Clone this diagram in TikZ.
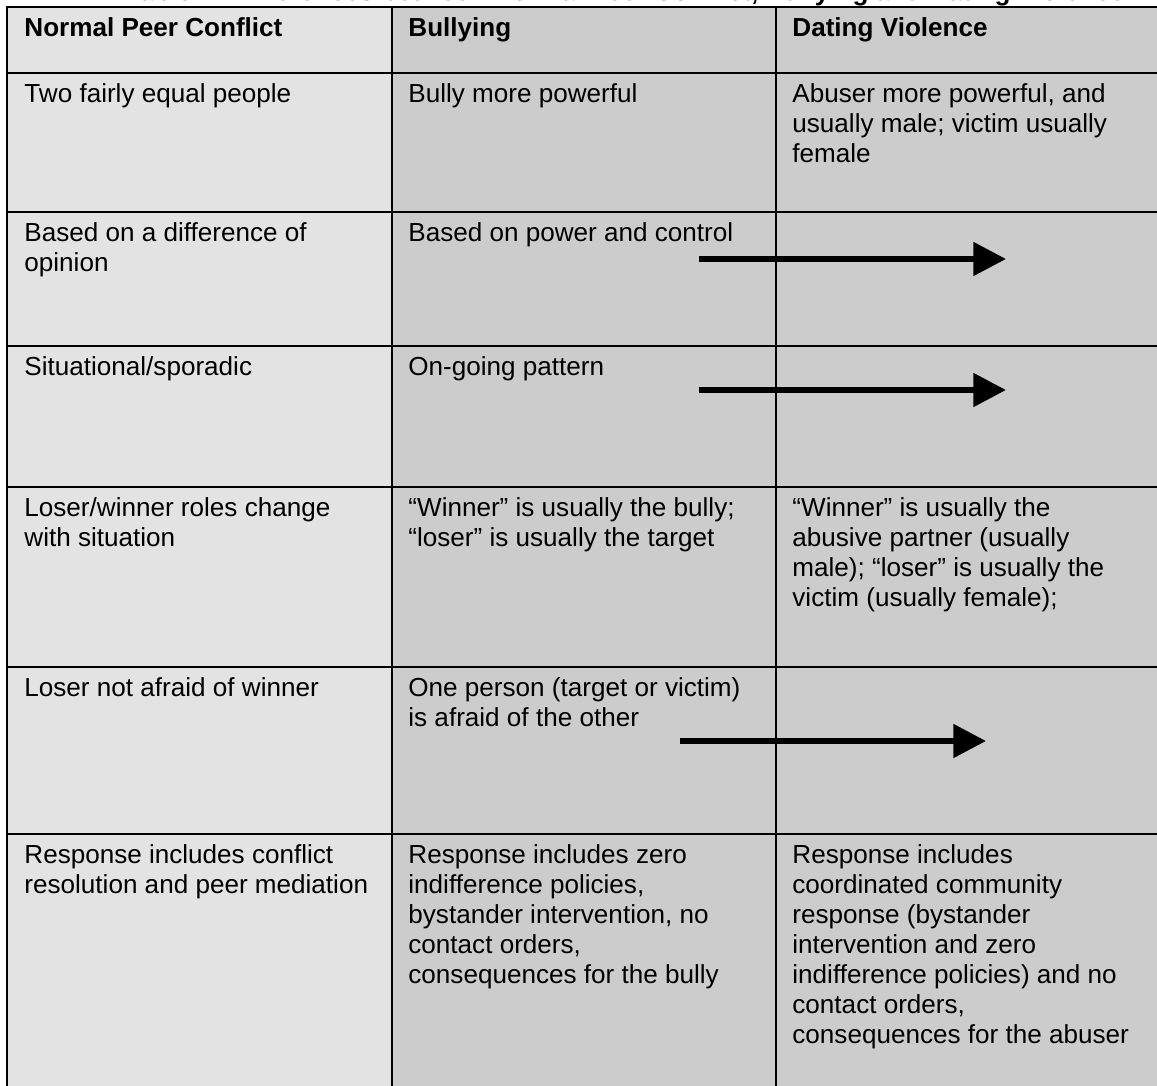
\documentclass[tikz,border=0pt]{standalone}
\usepackage{fontspec}
\setmainfont{Liberation Sans}
\usetikzlibrary{arrows.meta}
\definecolor{peercol}{gray}{0.89}
\definecolor{bullycol}{gray}{0.80}
\begin{document}
\begin{tikzpicture}[x=0.46pt,y=-0.46pt,
  cell/.style={anchor=north west, inner sep=0pt, align=left, font=\fontsize{12}{13.8}\selectfont},
  head/.style={cell, font=\fontsize{12}{13.8}\selectfont\bfseries},
  rule/.style={line width=0.75pt},
  frame/.style={line width=1pt},
  same/.style={-{Triangle[length=15pt,width=15pt]}, line width=2.8pt}]
\useasboundingbox (0,0) rectangle (1157,1086);
\fill[peercol] (7,7) rectangle (392,1086);
\fill[bullycol] (392,7) rectangle (1157,1086);
\node[anchor=base east, inner sep=0pt, font=\fontsize{12}{13.8}\selectfont\bfseries] (title) at (1125,0.5) {Table 1: Differences between Normal Peer Conflict, Bullying and Dating Violence};
% grid
\draw[rule] (392,7) -- (392,1086);
\draw[rule] (776,7) -- (776,1086);
\draw[rule] (7,73) -- (1157,73);
\draw[rule] (7,212) -- (1157,212);
\draw[rule] (7,346) -- (1157,346);
\draw[rule] (7,487) -- (1157,487);
\draw[rule] (7,667) -- (1157,667);
\draw[rule] (7,834) -- (1157,834);
\draw[frame] (7,1086) -- (7,7) -- (1157,7);
% header
\node[head] (h1) at (24,17) {Normal Peer Conflict};
\node[head] (h2) at (408,17) {Bullying};
\node[head] (h3) at (792,17) {Dating Violence};
% rows
\node[cell] (r1a) at (24,83) {Two fairly equal people};
\node[cell] (r1b) at (408,83) {Bully more powerful};
\node[cell] (r1c) at (792,83) {Abuser more powerful, and\\usually male; victim usually\\female};
\node[cell] (r2a) at (24,222) {Based on a difference of\\opinion};
\node[cell] (r2b) at (408,222) {Based on power and control};
\node[cell] (r3a) at (24,356) {Situational/sporadic};
\node[cell] (r3b) at (408,356) {On-going pattern};
\node[cell] (r4a) at (24,497) {Loser/winner roles change\\with situation};
\node[cell] (r4b) at (408,497) {“Winner” is usually the bully;\\“loser” is usually the target};
\node[cell] (r4c) at (792,497) {“Winner” is usually the\\abusive partner (usually\\male); “loser” is usually the\\victim (usually female);};
\node[cell] (r5a) at (24,677) {Loser not afraid of winner};
\node[cell] (r5b) at (408,677) {One person (target or victim)\\is afraid of the other};
\node[cell] (r6a) at (24,844) {Response includes conflict\\resolution and peer mediation};
\node[cell] (r6b) at (408,844) {Response includes zero\\indifference policies,\\bystander intervention, no\\contact orders,\\consequences for the bully};
\node[cell] (r6c) at (792,844) {Response includes\\coordinated community\\response (bystander\\intervention and zero\\indifference policies) and no\\contact orders,\\consequences for the abuser};
% arrows into dating violence column
\coordinate (s2) at (699,259);
\coordinate (e2) at (1006,259);
\coordinate (s3) at (699,390);
\coordinate (e3) at (1006,390);
\coordinate (s5) at (680,741);
\coordinate (e5) at (986,741);
\draw[same] (s2) -- (e2);
\draw[same] (s3) -- (e3);
\draw[same] (s5) -- (e5);
\end{tikzpicture}
\end{document}
